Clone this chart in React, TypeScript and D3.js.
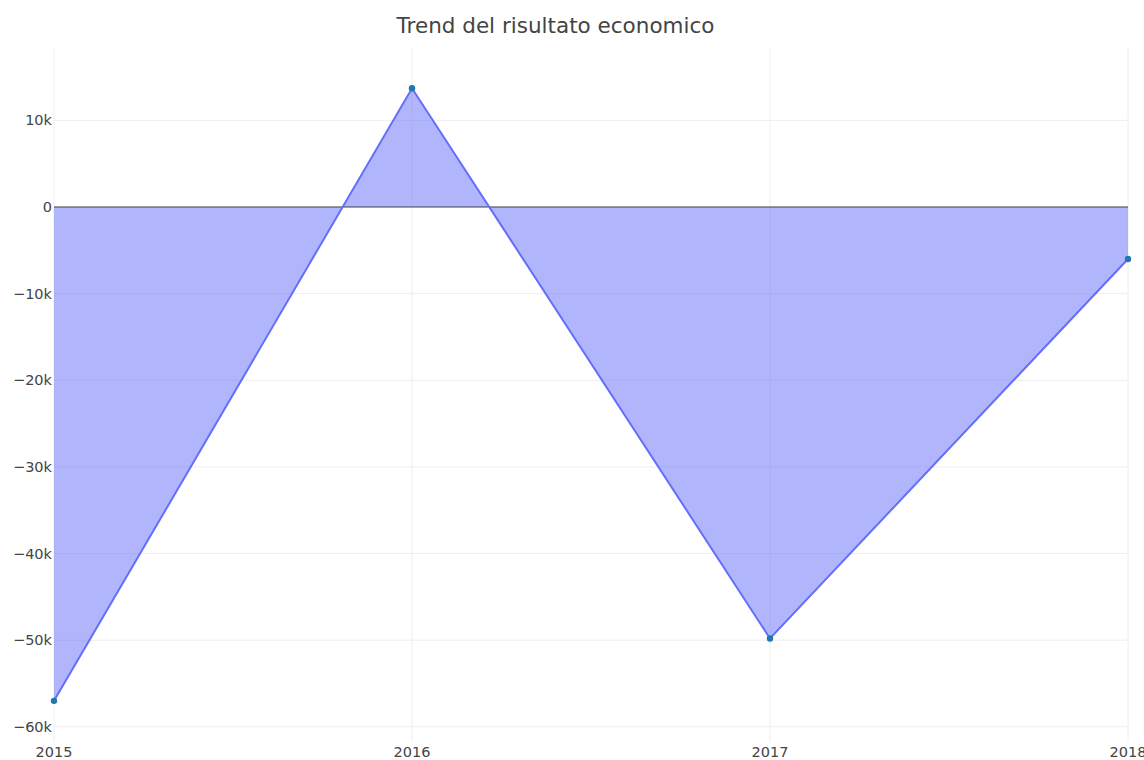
import { useEffect, useRef } from "react";
import * as d3 from "d3";

const years = [2015, 2016, 2017, 2018];
const risultato = [-57000, 13700, -49800, -6000];
const yTicks = [10000, 0, -10000, -20000, -30000, -40000, -50000, -60000];
const title = "Trend del risultato economico";

export default function App() {
  const svgRef = useRef<SVGSVGElement>(null);

  useEffect(() => {
    const svg = d3.select(svgRef.current);
    svg.selectAll("*").remove();

    const width = 1144;
    const height = 760;
    const margin = { top: 48, right: 16, bottom: 18, left: 54 };
    const font = "'DejaVu Sans', verdana, arial, sans-serif";

    const x = d3
      .scaleLinear()
      .domain([2015, 2018])
      .range([margin.left, width - margin.right]);

    const y = d3
      .scaleLinear()
      .domain([-61750, 18350])
      .range([height - margin.bottom, margin.top]);

    // grid
    svg.append("g")
      .selectAll("line")
      .data(yTicks)
      .enter()
      .append("line")
      .attr("x1", margin.left)
      .attr("x2", width - margin.right)
      .attr("y1", (d) => y(d))
      .attr("y2", (d) => y(d))
      .attr("stroke", "#eeeeee")
      .attr("stroke-width", 1);

    svg.append("g")
      .selectAll("line")
      .data(years)
      .enter()
      .append("line")
      .attr("x1", (d) => x(d))
      .attr("x2", (d) => x(d))
      .attr("y1", margin.top)
      .attr("y2", height - margin.bottom)
      .attr("stroke", "#eeeeee")
      .attr("stroke-width", 1);

    const pts = years.map((yr, i) => [yr, risultato[i]] as [number, number]);

    // area to zero
    const area = d3
      .area<[number, number]>()
      .x((d) => x(d[0]))
      .y0(y(0))
      .y1((d) => y(d[1]));

    svg.append("path")
      .datum(pts)
      .attr("d", area)
      .attr("fill", "rgba(99,110,250,0.5)");

    // zero line
    svg.append("line")
      .attr("x1", margin.left)
      .attr("x2", width - margin.right)
      .attr("y1", y(0))
      .attr("y2", y(0))
      .attr("stroke", "#444")
      .attr("stroke-width", 1);

    const line = d3
      .line<[number, number]>()
      .x((d) => x(d[0]))
      .y((d) => y(d[1]));

    svg.append("path")
      .datum(pts)
      .attr("d", line)
      .attr("fill", "none")
      .attr("stroke", "#636efa")
      .attr("stroke-width", 2);

    svg.append("g")
      .selectAll("circle")
      .data(pts)
      .enter()
      .append("circle")
      .attr("cx", (d) => x(d[0]))
      .attr("cy", (d) => y(d[1]))
      .attr("r", 3.2)
      .attr("fill", "#1f77b4");

    // y tick labels
    const fmt = (v: number) =>
      v === 0 ? "0" : (v < 0 ? "\u2212" : "") + Math.abs(v / 1000) + "k";

    svg.append("g")
      .selectAll("text")
      .data(yTicks)
      .enter()
      .append("text")
      .attr("x", margin.left - 2)
      .attr("y", (d) => y(d))
      .attr("dy", "0.35em")
      .attr("text-anchor", "end")
      .attr("font-family", font)
      .attr("font-size", 14.5)
      .attr("fill", "#444")
      .text((d) => fmt(d));

    // x tick labels
    svg.append("g")
      .selectAll("text")
      .data(years)
      .enter()
      .append("text")
      .attr("x", (d) => x(d))
      .attr("y", height - margin.bottom + 10)
      .attr("dy", "0.35em")
      .attr("text-anchor", "middle")
      .attr("font-family", font)
      .attr("font-size", 14.5)
      .attr("fill", "#444")
      .text((d) => String(d));

    svg.append("text")
      .attr("x", 555.5)
      .attr("y", 25)
      .attr("dy", "0.35em")
      .attr("text-anchor", "middle")
      .attr("font-family", font)
      .attr("font-size", 21.5)
      .attr("fill", "#444")
      .text(title);
  }, []);

  return (
    <svg
      ref={svgRef}
      width={1144}
      height={760}
      style={{ position: "absolute", left: 0, top: 0, background: "#fff" }}
    />
  );
}
